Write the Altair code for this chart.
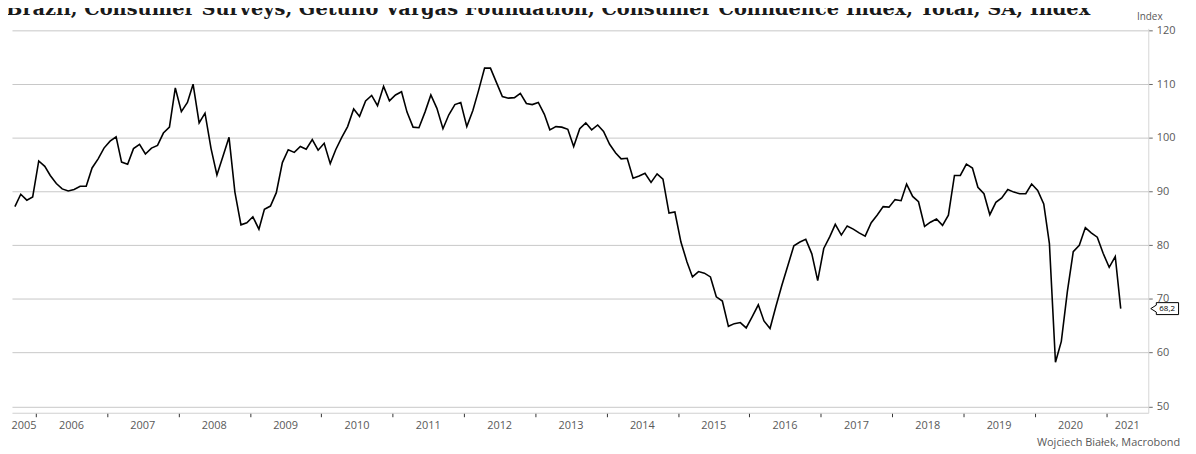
import altair as alt
import pandas as pd

title_text = "Brazil, Consumer Surveys, Getulio Vargas Foundation, Consumer Confidence Index, Total, SA, Index"
source_text = "Wojciech Białek, Macrobond"
y_axis_title = "Index"

# monthly values, first month = Sep 2005
v2005 = [87.2, 89.5, 88.4, 89.0]
v2006 = [95.7, 94.7, 93.0, 91.5, 90.5, 90.1, 90.4, 91.0, 91.0, 94.4, 96.1, 98.1]
v2007 = [99.4, 100.2, 95.5, 95.1, 98.0, 98.8, 97.0, 98.1, 98.6, 100.9, 102.0, 109.3]
v2008 = [104.9, 106.6, 110.0, 102.8, 104.6, 98.0, 93.1, 96.6, 100.1, 89.9, 83.8, 84.2]
v2009 = [85.3, 83.0, 86.7, 87.3, 89.8, 95.4, 97.8, 97.3, 98.4, 97.9, 99.7, 97.7]
v2010 = [99.0, 95.2, 97.8, 100.1, 102.1, 105.4, 104.0, 106.9, 107.9, 106.0, 109.6, 106.9]
v2011 = [108.0, 108.6, 104.8, 102.0, 101.9, 104.8, 108.0, 105.5, 101.7, 104.3, 106.2, 106.6]
v2012 = [102.1, 105.1, 108.8, 113.0, 113.0, 110.3, 107.7, 107.4, 107.5, 108.3, 106.4, 106.2]
v2013 = [106.6, 104.4, 101.5, 102.1, 102.0, 101.6, 98.4, 101.7, 102.8, 101.5, 102.4, 101.2]
v2014 = [98.8, 97.2, 96.1, 96.2, 92.5, 92.9, 93.4, 91.7, 93.3, 92.3, 86.0, 86.2]
v2015 = [80.6, 76.9, 74.1, 75.1, 74.8, 74.1, 70.4, 69.6, 64.9, 65.4, 65.6, 64.6]
v2016 = [66.7, 68.9, 65.9, 64.5, 68.6, 72.6, 76.2, 79.9, 80.6, 81.1, 78.4, 73.4]
v2017 = [79.4, 81.6, 83.9, 81.9, 83.6, 83.0, 82.3, 81.7, 84.2, 85.6, 87.2, 87.1]
v2018 = [88.5, 88.3, 91.4, 89.1, 88.1, 83.5, 84.3, 84.9, 83.7, 85.6, 93.0, 93.0]
v2019 = [95.1, 94.4, 90.8, 89.6, 85.7, 88.0, 88.8, 90.4, 89.9, 89.6, 89.6, 91.4]
v2020 = [90.2, 87.7, 80.3, 58.2, 62.1, 71.4, 78.8, 80.0, 83.3, 82.3, 81.5, 78.5]
v2021 = [75.9, 77.9, 68.2]

values = (v2005 + v2006 + v2007 + v2008 + v2009 + v2010 + v2011 + v2012 + v2013
          + v2014 + v2015 + v2016 + v2017 + v2018 + v2019 + v2020 + v2021)
dates = pd.date_range("2005-09-01", periods=len(values), freq="MS") + pd.Timedelta(days=15)
df = pd.DataFrame({"date": dates, "value": values})

last_df = df.tail(1).copy()
last_df["label"] = [f"{v:.1f}".replace(".", ",") for v in last_df["value"]]

years = list(range(2005, 2022))
year_mid = []
for y in years:
    lo = pd.Timestamp("2005-09-01") if y == 2005 else pd.Timestamp(f"{y}-01-01")
    hi = pd.Timestamp("2021-08-04") if y == 2021 else pd.Timestamp(f"{y+1}-01-01")
    year_mid.append(lo + (hi - lo) / 2)
year_df = pd.DataFrame({"year": [str(y) for y in years], "mid": year_mid})

y_ticks = [50, 60, 70, 80, 90, 100, 110, 120]

W, H = 1144, 387
x_scale = alt.Scale(domain=[alt.DateTime(year=2005, month=9, date=1),
                            alt.DateTime(year=2021, month=8, date=4)])
y_scale = alt.Scale(domain=[48.8, 120.4], nice=False, zero=False)

label_font = "Open Sans"
gray = "#595959"

line = alt.Chart(df).mark_line(color="black", strokeWidth=1.6).encode(
    x=alt.X("date:T", scale=x_scale,
            axis=alt.Axis(values=[alt.DateTime(year=y, month=1, date=1) for y in range(2006, 2022)],
                          labels=False, grid=False, tickSize=4, tickColor="#333333",
                          domainColor="#d0d0d0", title=None)),
    y=alt.Y("value:Q", scale=y_scale,
            axis=alt.Axis(orient="right", values=y_ticks, grid=True, gridColor="#c8c8c8",
                          domainColor="#d6d6d6", tickColor="#666666", tickSize=4,
                          labelFont=label_font, labelFontSize=11, labelColor=gray,
                          labelPadding=4, title=y_axis_title, titleAngle=0, titleX=1, titleY=-12,
                          titleAlign="center", titleBaseline="middle", titleFont=label_font,
                          titleFontSize=10, titleFontWeight="normal", titleColor=gray)),
)

year_labels = alt.Chart(year_df).mark_text(font=label_font, fontSize=11, color=gray,
                                           baseline="middle", align="center").encode(
    x=alt.X("mid:T", scale=x_scale),
    y=alt.value(H + 13),
    text="year:N",
)

footer = alt.Chart(pd.DataFrame({"t": [source_text]})).mark_text(
    font=label_font, fontSize=11, color=gray, align="right", baseline="middle").encode(
    x=alt.value(W + 32), y=alt.value(H + 30), text="t:N")

title = alt.Chart(pd.DataFrame({"t": [title_text]})).mark_text(
    font="DejaVu Serif", fontWeight="bold", fontSize=19.5, color="#1a1a1a",
    align="left", baseline="alphabetic").encode(
    x=alt.value(-6), y=alt.value(-13), text="t:N")

callout_path = "M -1 0 L -0.6 -0.25 L -0.6 -0.43 L 1 -0.43 L 1 0.43 L -0.6 0.43 L -0.6 0.25 Z"
callout_box = alt.Chart(last_df).mark_point(shape=callout_path, size=784, filled=True,
                                            fill="white", stroke="black", strokeWidth=1,
                                            opacity=1).encode(
    x=alt.value(W + 16.5), y=alt.Y("value:Q", scale=y_scale))
callout_text = alt.Chart(last_df).mark_text(font=label_font, fontSize=8, color="black",
                                            align="center", baseline="middle").encode(
    x=alt.value(W + 19), y=alt.Y("value:Q", scale=y_scale), text="label:N")

chart = alt.layer(line, year_labels, footer, title, callout_box, callout_text).properties(
    width=W, height=H,
    autosize=alt.AutoSizeParams(type="none"),
    padding={"left": 4, "top": 19, "right": 40, "bottom": 38},
    background="white",
).configure_view(strokeWidth=0)

chart.save("out.html", embed_options={"renderer": "svg", "actions": False})
